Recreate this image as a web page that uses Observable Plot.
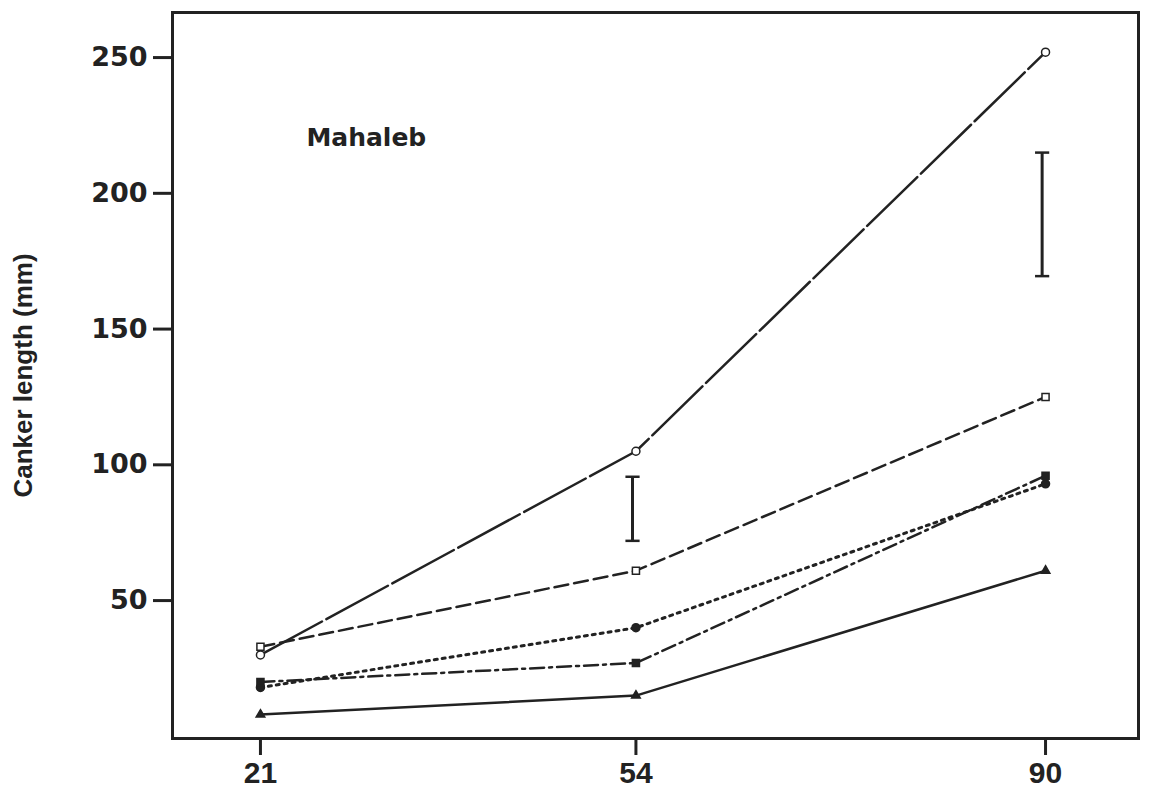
<!DOCTYPE html>
<html>
<head>
<meta charset="utf-8">
<script src="https://cdn.jsdelivr.net/npm/d3@7"></script>
<script src="https://cdn.jsdelivr.net/npm/@observablehq/plot@0.6"></script>
<style>
  body { margin: 0; background: #fff; }
  #chart svg { display: block; }
</style>
</head>
<body>
<div id="chart"></div>
<script>
// Days after inoculation
const days = [21, 54, 90];
// Canker length (mm) per treatment series
const seriesNames = ["A", "B", "C", "D", "E"];
const openCircle   = [30, 105, 252];
const openSquare   = [33, 61, 125];
const filledCircle = [18, 40, 93];
const filledSquare = [20, 27, 96];
const triangle     = [8, 15, 61];
// LSD error bars
const errX = [53.7, 89.7];
const errLow = [72, 169.5];
const errHigh = [95.6, 215];
// Tick labels
const xTicks = [21, 54, 90];
const yTicks = [50, 100, 150, 200, 250];

const ink = "#222";
const valuesBySeries = [openCircle, openSquare, filledCircle, filledSquare, triangle];
const styles = {
  A: {dash: "70,5", symbol: "circle", fill: "white", r: 4},
  B: {dash: "14,6", symbol: "square", fill: "white", r: 4},
  C: {dash: "3,5", symbol: "circle", fill: ink, r: 4},
  D: {dash: "14,5,3,5", symbol: "square", fill: ink, r: 4},
  E: {dash: null, symbol: "triangle", fill: ink, r: 3.2}
};
const rows = [];
seriesNames.forEach((s, i) => days.forEach((d, j) => rows.push({series: s, day: d, value: valuesBySeries[i][j]})));
const errRows = errX.map((x, i) => ({x, lo: errLow[i], hi: errHigh[i]}));

const capSymbol = {draw(ctx, size) { const w = Math.sqrt(size) / 2; ctx.moveTo(-w, 0); ctx.lineTo(w, 0); }};

const marks = [];
for (const s of seriesNames) {
  const data = rows.filter(r => r.series === s);
  marks.push(Plot.line(data, {x: "day", y: "value", stroke: ink, strokeWidth: s === "C" ? 3 : 2.5, strokeDasharray: styles[s].dash}));
}
for (const s of seriesNames) {
  const data = rows.filter(r => r.series === s);
  marks.push(Plot.dot(data, {x: "day", y: "value", symbol: styles[s].symbol, r: styles[s].r, fill: styles[s].fill, stroke: ink, strokeWidth: 1.5}));
}

const chart = Plot.plot({
  width: 1152,
  height: 797,
  marginLeft: 172,
  marginRight: 14,
  marginTop: 12,
  marginBottom: 59,
  x: {domain: [13.27, 98.17], axis: null},
  y: {domain: [-0.8, 266.6], axis: null},
  style: {background: "white", color: ink},
  marks: [
    Plot.frame({stroke: ink, strokeWidth: 3}),
    Plot.axisY({ticks: yTicks, tickSize: 19, tickPadding: 6, strokeWidth: 3, stroke: ink, fill: ink,
      fontSize: 27, fontWeight: "bold", fontFamily: "DejaVu Sans", label: null}),
    Plot.axisX({ticks: xTicks, tickSize: 17, tickPadding: 6, strokeWidth: 3, stroke: ink, fill: ink,
      fontSize: 30, fontWeight: "bold", fontFamily: "Liberation Sans", label: null}),
    Plot.text(["Canker length (mm)"], {frameAnchor: "left", textAnchor: "middle", dx: -149, dy: 0, rotate: -90, fontSize: 26,
      fontWeight: "bold", fontFamily: "Liberation Sans", fill: ink}),
    Plot.text(["Mahaleb"], {x: 25.04, y: 220.5, textAnchor: "start", fontSize: 25, fontWeight: "bold",
      fontFamily: "DejaVu Sans", fill: ink}),
    ...marks,
    Plot.ruleX(errRows, {x: "x", y1: "lo", y2: "hi", stroke: ink, strokeWidth: 3}),
    Plot.dot(errRows, {x: "x", y: "lo", symbol: capSymbol, r: 8, stroke: ink, strokeWidth: 2.5}),
    Plot.dot(errRows, {x: "x", y: "hi", symbol: capSymbol, r: 8, stroke: ink, strokeWidth: 2.5})
  ]
});
document.getElementById("chart").append(chart);
</script>
</body>
</html>
